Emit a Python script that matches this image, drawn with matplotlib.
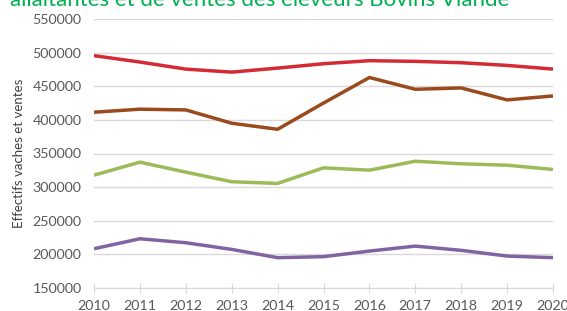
import matplotlib
matplotlib.use("Agg")
import matplotlib.pyplot as plt

years = list(range(2010, 2021))
rouge = [495500, 486000, 475500, 471000, 477000, 483500, 488000, 487000, 485000, 481000, 475500]
marron = [411400, 415900, 414800, 395000, 386000, 425000, 463000, 445500, 447500, 429700, 435600]
vert = [317800, 337100, 322300, 308000, 305500, 328700, 325200, 338500, 334700, 332600, 326300]
violet = [208400, 223200, 217300, 207400, 195100, 196600, 204900, 212300, 206000, 197500, 195100]

plt.rcParams['font.family'] = ['Lato', 'DejaVu Sans']

fig = plt.figure(figsize=(5.67, 3.11), dpi=100)
ax = fig.add_axes([94 / 567, 1 - 288 / 311, (553 - 94) / 567, (288 - 19) / 311])

ax.plot(years, rouge, color='#d42a33', lw=2.5, solid_capstyle='butt')
ax.plot(years, marron, color='#9a4a1c', lw=2.5, solid_capstyle='butt')
ax.plot(years, vert, color='#9bbb59', lw=2.5, solid_capstyle='butt')
ax.plot(years, violet, color='#8064a2', lw=2.5, solid_capstyle='butt')

ax.set_xlim(2010, 2020)
ax.set_ylim(150000, 550000)
ax.set_yticks(range(150000, 550001, 50000))
ax.set_xticks(years)
ax.grid(axis='y', color='#d9d9d9', lw=1)
ax.set_axisbelow(True)
for s in ['top', 'right', 'left']:
    ax.spines[s].set_visible(False)
ax.spines['bottom'].set_color('#d9d9d9')
ax.tick_params(axis='y', length=0, labelsize=10.3, labelcolor='#595959', pad=9)
ax.tick_params(axis='x', direction='inout', length=7, color='#d9d9d9',
               labelsize=10.3, labelcolor='#595959', pad=5)
ax.set_ylabel('Effectifs vaches et ventes', fontsize=9.5, color='#404040', labelpad=5)

fig.text(0.017, 1 - 6 / 311, 'allaitantes et de ventes des éleveurs Bovins Viande',
         color='#00b050', fontsize=16, va='baseline', ha='left')

fig.savefig('out.png', dpi=100)
